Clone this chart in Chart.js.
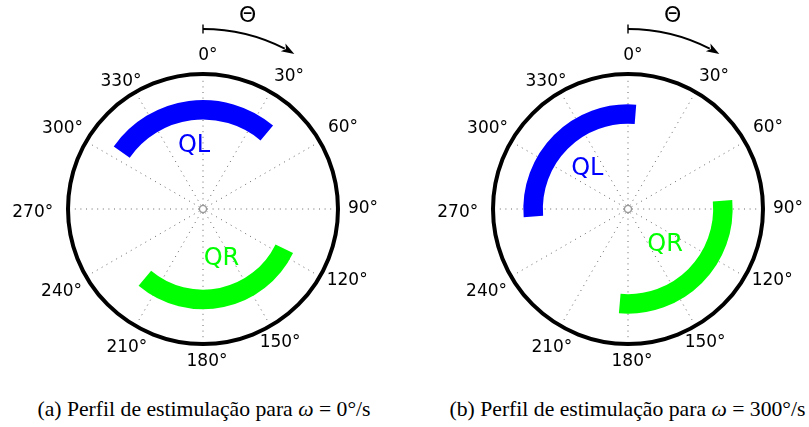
<!DOCTYPE html>
<html>
<head>
<meta charset="utf-8">
<script src="https://cdn.jsdelivr.net/npm/chart.js@4/dist/chart.umd.min.js"></script>
<style>
  html, body { margin: 0; padding: 0; background: #fff; overflow: hidden; }
  #wrap { position: relative; width: 809px; height: 427px; background: #fff; }
  canvas { position: absolute; top: 0; }
  #ca { left: 0; }
  #cb { left: 425px; }
  .cap { position: absolute; top: 397px; font-family: "Liberation Serif", "Times New Roman", serif;
         font-size: 21.7px; line-height: 24px; white-space: nowrap; transform: translateX(-50%); color: #000; }
  .cap i { font-style: italic; }
</style>
</head>
<body>
<div id="wrap">
  <canvas id="ca" width="404" height="390"></canvas>
  <canvas id="cb" width="384" height="390"></canvas>
  <div class="cap" id="capA" style="left:204px"></div>
  <div class="cap" id="capB" style="left:627.5px"></div>
</div>
<script>
// ---------------- data ----------------
const tickLabels = ['0°', '30°', '60°', '90°', '120°', '150°', '180°', '210°', '240°', '270°', '300°', '330°'];
const seriesNames = ['QL', 'QR'];
const panelTags = ['a', 'b'];
const omegaValues = [0, 300];             // ω (°/s) of each panel
// arcs: [start angle, end angle] in degrees, clockwise from 0° (top)
const qlArcA = [305, 40];
const qrArcA = [116, 220];
const qlArcB = [265.5, 4.5];
const qrArcB = [85, 185];
// radial position of each arc (r, outer circle = 1)
const qlRadius = [0.735, 0.703];
const qrRadius = [0.67, 0.703];

// ---------------- style ----------------
const seriesColors = ['#0000ff', '#00ff00'];
const gridRadii = [0, 0.026, 1];
// tick label placement [angle°, distance px]
const tickLabelPlace = [[1.8,153.6],[33,157.8],[59.9,161.8],[89.9,160],[116.5,161.1],[150,154.2],
                        [178.5,152.7],[208.8,158],[239.7,163.8],[268.8,170.3],[299.9,162],[327.2,151.4]];
// series name placement per panel [angle°, distance px]
const namePlace = [
  [[351.9, 63.6], [159.7, 53.3]],
  [[314.5, 57.1], [133.9, 51.5]]
];

Chart.defaults.font.family = '"DejaVu Sans", sans-serif';

// polar-area controller that draws each data element as an annular band
class BandController extends Chart.PolarAreaController {
  updateElements(arcs, start, count, mode) {
    const scale = this._cachedMeta.rScale;
    const base = scale.getIndexAngle(0) - Math.PI / 2;
    const half = (this.getDataset().bandWidth || 20) / 2;
    for (let i = start; i < start + count; i++) {
      const p = this.getParsed(i);
      const rc = scale.getDistanceFromCenterForValue(p.r);
      const a0 = p.from * Math.PI / 180;
      let a1 = p.to * Math.PI / 180;
      if (a1 <= a0) a1 += 2 * Math.PI;
      this.updateElement(arcs[i], i, {
        x: scale.xCenter, y: scale.yCenter,
        innerRadius: rc - half, outerRadius: rc + half,
        startAngle: base + a0, endAngle: base + a1, circumference: a1 - a0,
        options: this.resolveDataElementOptions(i, mode)
      }, mode);
    }
  }
}
BandController.id = 'polarBand';
Chart.register(BandController);

function overlay(panelIdx) {
  return {
    id: 'overlay',
    afterDraw(chart) {
      const s = chart.scales.r, ctx = chart.ctx;
      const at = (deg, dist) => s.getPointPosition(deg / 30, dist);
      ctx.save();
      // angular tick labels
      ctx.fillStyle = '#000';
      ctx.font = '17px "DejaVu Sans"';
      ctx.textAlign = 'center';
      ctx.textBaseline = 'middle';
      tickLabels.forEach((t, i) => {
        const p = at(tickLabelPlace[i][0], tickLabelPlace[i][1]);
        ctx.fillText(t, p.x, p.y);
      });
      // series names
      ctx.font = '24px "DejaVu Sans"';
      seriesNames.forEach((n, k) => {
        const pl = namePlace[panelIdx][k];
        const p = at(pl[0], pl[1]);
        ctx.fillStyle = seriesColors[k];
        ctx.fillText(n, p.x, p.y);
      });
      // theta direction arrow
      const cx = s.xCenter, cy = s.yCenter, R = 180;
      const rad = d => d * Math.PI / 180;
      const tipDeg = 30.5, headL = 13, headW = 9;
      const tip = { x: cx + R * Math.sin(rad(tipDeg)), y: cy - R * Math.cos(rad(tipDeg)) };
      const t = { x: Math.cos(rad(tipDeg)), y: Math.sin(rad(tipDeg)) };
      const n = { x: Math.sin(rad(tipDeg)), y: -Math.cos(rad(tipDeg)) };
      ctx.strokeStyle = '#000';
      ctx.lineWidth = 1.8;
      ctx.beginPath();
      ctx.arc(cx, cy, R, rad(-90), rad(-90 + tipDeg - 3.5));
      ctx.stroke();
      ctx.lineWidth = 1.4;
      ctx.beginPath();
      ctx.moveTo(cx, cy - R - 4.5);
      ctx.lineTo(cx, cy - R + 4.5);
      ctx.stroke();
      ctx.fillStyle = '#000';
      ctx.beginPath();
      ctx.moveTo(tip.x, tip.y);
      ctx.lineTo(tip.x - headL * t.x + headW / 2 * n.x, tip.y - headL * t.y + headW / 2 * n.y);
      ctx.lineTo(tip.x - headL * 0.75 * t.x, tip.y - headL * 0.75 * t.y);
      ctx.lineTo(tip.x - headL * t.x - headW / 2 * n.x, tip.y - headL * t.y - headW / 2 * n.y);
      ctx.closePath();
      ctx.fill();
      ctx.font = '22px "DejaVu Sans"';
      const th = at(13, 198);
      ctx.fillText('Θ', th.x, th.y);
      ctx.restore();
    }
  };
}

function makePanel(canvasId, panelIdx, qlArc, qrArc, padRight) {
  const datasets = [
    { label: seriesNames[0], data: [{ r: qlRadius[panelIdx], from: qlArc[0], to: qlArc[1] }],
      backgroundColor: seriesColors[0], borderWidth: 0, bandWidth: 19.5 },
    { label: seriesNames[1], data: [{ r: qrRadius[panelIdx], from: qrArc[0], to: qrArc[1] }],
      backgroundColor: seriesColors[1], borderWidth: 0, bandWidth: 19.5 }
  ];
  return new Chart(document.getElementById(canvasId), {
    type: 'polarBand',
    data: { labels: tickLabels, datasets },
    options: {
      responsive: false,
      animation: false,
      events: [],
      parsing: false,
      layout: { padding: { left: 68, top: 74, right: padRight, bottom: 46 } },
      plugins: { legend: { display: false }, tooltip: { enabled: false } },
      scales: {
        r: {
          min: 0, max: 1, startAngle: 0,
          ticks: { display: false },
          afterBuildTicks: (sc) => { sc.ticks = gridRadii.map(v => ({ value: v })); },
          grid: {
            circular: true,
            color: (c) => (c.tick && c.tick.value === 1) ? '#000' : '#777',
            lineWidth: (c) => (c.tick && c.tick.value === 1) ? 4 : 0.9
          },
          angleLines: { display: true, color: 'rgba(0,0,0,0.6)', lineWidth: 1,
                        borderDash: [1, 4.6], borderDashOffset: 1.6 },
          pointLabels: { display: false }
        }
      }
    },
    plugins: [overlay(panelIdx)]
  });
}

makePanel('ca', 0, qlArcA, qrArcA, 66);
makePanel('cb', 1, qlArcB, qrArcB, 46);

function caption(i) {
  return '(' + panelTags[i] + ') Perfil de estimulação para <i>ω</i> = ' + omegaValues[i] + '°/s';
}
document.getElementById('capA').innerHTML = caption(0);
document.getElementById('capB').innerHTML = caption(1);
</script>
</body>
</html>
